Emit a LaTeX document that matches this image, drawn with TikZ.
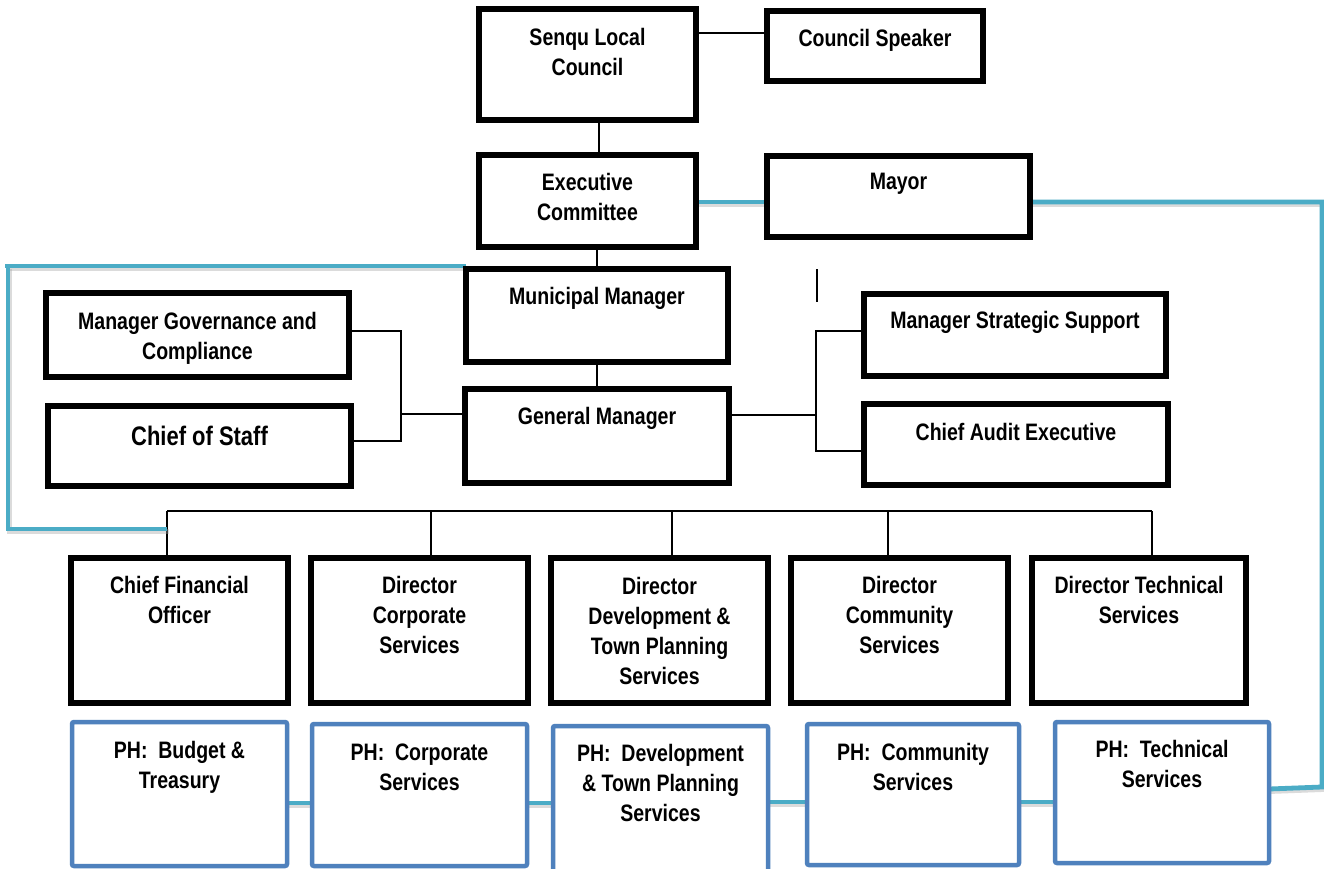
\documentclass[tikz,border=0pt]{standalone}
\usepackage{fontspec}
\setmainfont{Liberation Sans}[FakeStretch=0.82]
\usetikzlibrary{calc}
\definecolor{cyanl}{HTML}{4BACC6}
\definecolor{blueb}{HTML}{4F81BD}
\pgfdeclarelayer{bg}
\pgfsetlayers{bg,main}
\tikzset{
  blk/.style={draw=black, line width=5.2pt, rectangle, inner sep=0pt, outer sep=0pt, fill=white},
  phbox/.style={draw=blueb, line width=4.5pt, rounded corners=2pt, rectangle, inner sep=0pt, outer sep=0pt, fill=white},
  txt/.style={align=center, inner sep=0pt, anchor=north, font=\bfseries\fontsize{23.8}{29.8}\selectfont},
  conn/.style={draw=black, line width=1.5pt},
  cy/.style={draw=cyanl, line width=4.8pt, preaction={draw=black!35, opacity=.4, line width=4.8pt, transform canvas={shift={(1.5pt,-2.5pt)}}}},
}
\newcommand\orgbox[8]{%
  \node[#2, minimum width={#5-#3}, minimum height={#6-#4}, anchor=north west] (#1) at (#3,#4) {};
  \node[txt] (#1t) at (#1.north |- 0,#7) {#8};
}
\begin{document}
\begin{tikzpicture}[x=1pt,y=-1pt]
\useasboundingbox (0,0) rectangle (1324,869);
\orgbox{senqu}{blk}{479}{9}{696}{120}{28.5}{Senqu Local\\Council}
\orgbox{spk}{blk}{767}{11}{983}{81}{29.5}{Council Speaker}
\orgbox{exec}{blk}{479}{155}{696}{247}{173.5}{Executive\\Committee}
\orgbox{mayor}{blk}{767}{156}{1030}{237}{172.5}{Mayor}
\orgbox{mm}{blk}{466}{269}{728}{362}{287.5}{Municipal Manager}
\orgbox{gm}{blk}{465}{389}{729}{483}{407.5}{General Manager}
\orgbox{mg}{blk}{46}{293}{349}{377}{312.5}{Manager Governance and\\Compliance}
\orgbox{cos}{blk}{48}{406}{351}{486}{425.4}{\fontsize{26.8}{32}\selectfont Chief of Staff}
\orgbox{mss}{blk}{864}{294}{1166}{376}{311.5}{Manager Strategic Support}
\orgbox{cae}{blk}{864}{404}{1168}{485}{423.5}{Chief Audit Executive}
\orgbox{cfo}{blk}{71}{558}{288}{703}{576.5}{Chief Financial\\Officer}
\orgbox{corp}{blk}{311}{558}{528}{703}{576.5}{Director\\Corporate\\Services}
\orgbox{dev}{blk}{551}{558}{768}{703}{577.5}{Director\\Development \&\\Town Planning\\Services}
\orgbox{comm}{blk}{791}{558}{1008}{703}{576.5}{Director\\Community\\Services}
\orgbox{tech}{blk}{1032}{558}{1246}{703}{576.5}{Director Technical\\Services}
\orgbox{phb}{phbox}{72}{722}{287}{866}{741.5}{PH:~ Budget \&\\Treasury}
\orgbox{phc}{phbox}{312}{724}{527}{866}{743.5}{PH:~ Corporate\\Services}
\orgbox{phd}{phbox}{553}{726}{768}{875}{744.5}{PH:~ Development\\\& Town Planning\\Services}
\orgbox{phm}{phbox}{807}{724}{1019}{865}{743.5}{PH:~ Community\\Services}
\orgbox{pht}{phbox}{1055}{722}{1269}{863}{740.5}{PH:~ Technical\\Services}
\begin{pgfonlayer}{bg}
\fill[white] (0,0) rectangle (1324,869);
\draw[conn] (senqu.east |- 0,33) -- (spk.west |- 0,33);
\draw[conn] (senqu.south -| 599,0) -- (exec.north -| 599,0);
\draw[conn] (exec.south -| mm.north) -- (mm.north);
\draw[conn] (mm.south) -- (gm.north);
\draw[cy] (exec.east |- 0,202) -- (mayor.west |- 0,202);
\coordinate (jl) at (401,414);
\draw[conn] (mg.east |- 0,331) -| (jl);
\draw[conn] (cos.east |- 0,441) -| (jl);
\draw[conn] (jl) -- (jl -| gm.west);
\coordinate (jr) at (816,415);
\draw[conn] (gm.east |- jr) -- (jr);
\draw[conn] (mss.west |- 0,331) -| (jr);
\draw[conn] (cae.west |- 0,451) -| (jr);
\coordinate (s1) at (817,269);
\coordinate (s2) at (817,302);
\draw[conn] (s1) -- (s2);
\coordinate (busL) at (167,511);
\coordinate (busR) at (1152,511);
\draw[conn] (busL) -- (busR);
\foreach \n/\x in {cfo/167, corp/431, dev/672, comm/888, tech/1152}
  \draw[conn] (\n.north -| \x,0) -- (\x,511);
\coordinate (cl) at (8,529);
\draw[cy] (mm.north west |- 0,266) -- (5,266);
\draw[cy] (cl |- 0,266) -- (cl) -- (busL |- cl);
\coordinate (cr) at (1322,787);
\draw[cy] (mayor.east |- 0,202) -| (cr) -- (pht.east |- 0,789);
\foreach \a/\b/\y in {phb/phc/803, phc/phd/803, phd/phm/802, phm/pht/802}
  \draw[cy] (\a.east |- 0,\y) -- (\b.west |- 0,\y);
\end{pgfonlayer}
\end{tikzpicture}
\end{document}
